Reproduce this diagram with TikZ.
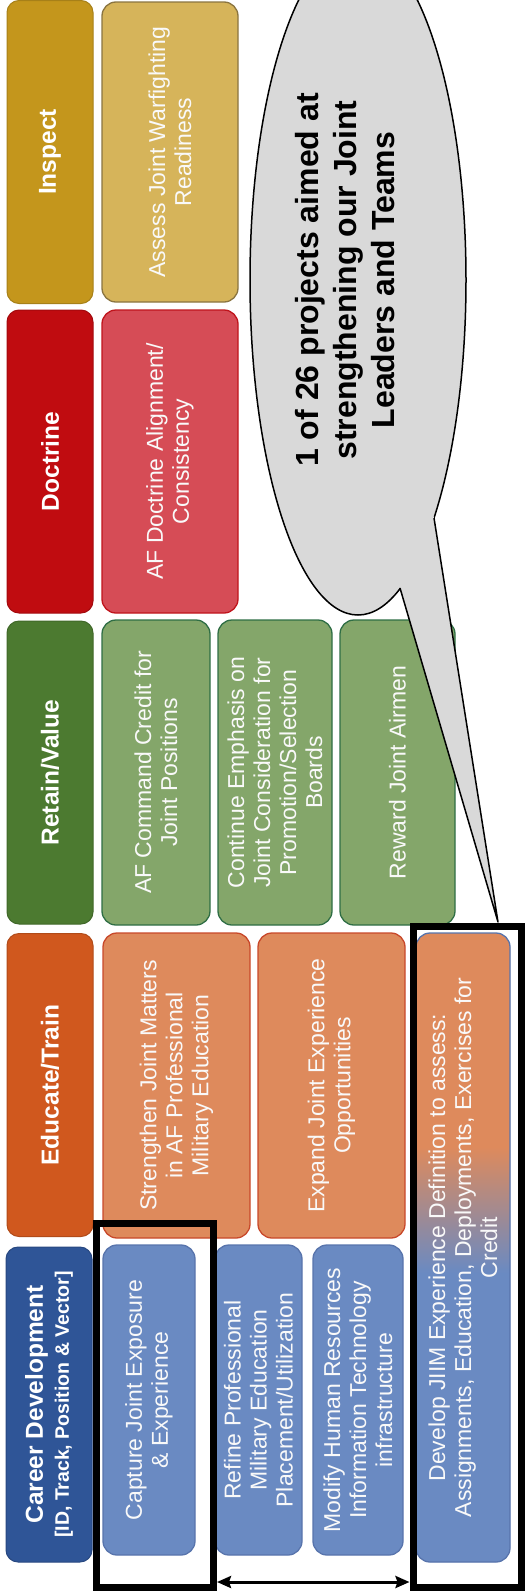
\documentclass[tikz,border=0pt]{standalone}
\usepackage{fontspec}
\setmainfont{Liberation Sans}
\usetikzlibrary{arrows.meta}

\definecolor{cdhead}{HTML}{2F5597}
\definecolor{cditem}{HTML}{6A8AC2}
\definecolor{cdline}{HTML}{5874AC}
\definecolor{eduhead}{HTML}{D0581E}
\definecolor{eduitem}{HTML}{DE8A5C}
\definecolor{eduline}{HTML}{C8482A}
\definecolor{rethead}{HTML}{4C7A30}
\definecolor{retitem}{HTML}{84A66A}
\definecolor{retline}{HTML}{2F6E45}
\definecolor{dochead}{HTML}{C00C10}
\definecolor{docitem}{HTML}{D64C56}
\definecolor{docline}{HTML}{C0141C}
\definecolor{inshead}{HTML}{C4961C}
\definecolor{insitem}{HTML}{D6B45A}
\definecolor{insline}{HTML}{8A7440}
\definecolor{bubblegray}{HTML}{D9D9D9}

\pgfdeclareverticalshading{jiimshade}{100bp}{color(0bp)=(cditem); color(48bp)=(cditem); color(58bp)=(eduitem); color(100bp)=(eduitem)}

\begin{document}
\begin{tikzpicture}[x=1pt, y=-1pt,
		hdr/.style={rotate=90, rounded corners=12pt, fill=#1, draw=#1!85!black, line width=1pt, text=white, align=center, inner sep=0pt, minimum height=86, minimum width=303, font=\bfseries\fontsize{24.5}{27}\selectfont},
		item/.style 2 args={rotate=90, rounded corners=14pt, fill=#1, draw=#2, line width=1.3pt, text=white!95!gray, align=center, inner sep=0pt, font=\fontsize{23}{26}\selectfont},
		boxsize/.style 2 args={minimum height=#1, minimum width=#2},
		focus/.style={draw=black, line width=7pt, inner sep=0pt}]
		\useasboundingbox (0,0) rectangle (531,1593);

		\node[hdr=inshead] (inspect) at (50, 152) {Inspect};
		\node[hdr=dochead] (doctrine) at (50, 461.5) {Doctrine};
		\node[hdr=rethead] (retain) at (50, 772.5) {Retain/Value};
		\node[hdr=eduhead] (educate) at (50, 1085) {Educate/Train};
		\node[hdr=cdhead, boxsize={86}{315}] (career) at (49, 1404.5) {Career Development\\[-1pt]{\fontsize{19.5}{22}\selectfont [ID, Track, Position \& Vector]}};

		\node[item={insitem}{insline}, boxsize={136}{300}] (assess) at (170, 152) {Assess Joint Warfighting\\Readiness};
		\node[item={docitem}{docline}, boxsize={136}{303}] (afdoctrine) at (170, 461.5) {AF Doctrine Alignment/\\Consistency};
		\node[item={retitem}{retline}, boxsize={108}{305}] (afcommand) at (156, 772.5) {AF Command Credit for\\Joint Positions};
		\node[item={retitem}{retline}, boxsize={114}{305}] (emphasis) at (275, 772.5) {Continue Emphasis on\\Joint Consideration for\\Promotion/Selection\\Boards};
		\node[item={retitem}{retline}, boxsize={115}{305}] (reward) at (397.5, 772.5) {Reward Joint Airmen};
		\node[item={eduitem}{eduline}, boxsize={147}{305}] (strengthen) at (176.5, 1085.5) {Strengthen Joint Matters\\in AF Professional\\Military Education};
		\node[item={eduitem}{eduline}, boxsize={147}{305}] (expand) at (331.5, 1085.5) {Expand Joint Experience\\Opportunities};
		\node[item={cditem}{cdline}, boxsize={92}{310}] (capture) at (149, 1400) {Capture Joint Exposure\\\& Experience};
		\node[item={cditem}{cdline}, boxsize={87}{310}] (refine) at (258.5, 1400) {Refine Professional\\Military Education\\Placement/Utilization};
		\node[item={cditem}{cdline}, boxsize={90}{310}] (modify) at (358, 1400) {Modify Human Resources\\Information Technology\\infrastructure};
		\node[item={cditem}{cdline}, boxsize={94}{629}, shade, shading=jiimshade] (develop) at (463, 1247.5) {Develop JIIM Experience Definition to assess:\\Assignments, Education, Deployments, Exercises for\\Credit};

		\coordinate (bubblecentre) at (358, 280);
		\coordinate (bubbleright) at (434, 518);
		\coordinate (bubblenotch) at (400, 588);
		\coordinate (tip) at (498, 922);
		\draw[line width=1.5pt, fill=bubblegray] (bubblecentre) ellipse [x radius=108, y radius=335];
		\fill[bubblegray] (bubblenotch) -- (tip) -- (bubbleright) -- (bubblecentre) -- cycle;
		\draw[line width=1.5pt, line join=round] (bubblenotch) -- (tip) -- (bubbleright);
		\node[rotate=90, align=center, font=\bfseries\fontsize{32}{38}\selectfont] (bubbletext) at (345, 280) {1 of 26 projects aimed at\\strengthening our Joint\\Leaders and Teams};

		\node[focus, minimum width=117, minimum height=364] (capturefocus) at (155, 1405) {};
		\node[focus, minimum width=108, minimum height=661] (developfocus) at (467, 1256.5) {};
		\coordinate (arrowlevel) at (0, 1582);
		\draw[{Stealth[length=14pt, width=12pt, inset=2pt]}-{Stealth[length=14pt, width=12pt, inset=2pt]}, line width=3pt] (capturefocus.east |- arrowlevel) -- (developfocus.west |- arrowlevel);
	\end{tikzpicture}
\end{document}
